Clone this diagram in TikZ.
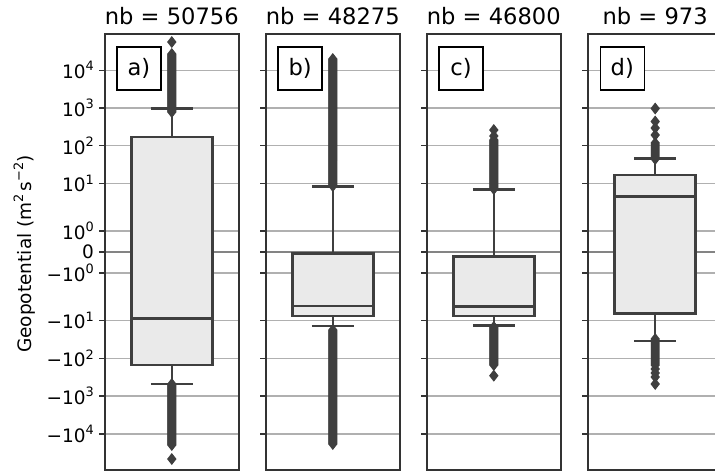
\documentclass[tikz,border=0pt]{standalone}
\usepackage{fontspec}
\setmainfont{DejaVu Sans}
\definecolor{boxgray}{HTML}{EAEAEA}
\definecolor{linegray}{HTML}{3F3F3F}
\definecolor{gridgray}{HTML}{B0B0B0}
\definecolor{spinegray}{HTML}{333333}
\newcommand{\drawflier}[2]{\fill[flier] (#1,#2-6) -- ++(4.7,6) -- ++(-4.7,6) -- ++(-4.7,-6) -- cycle;}
\newcommand{\supx}[1]{\raisebox{0.42em}{\fontsize{12.9}{14}\selectfont #1}}
\tikzset{
  spine/.style={draw=spinegray, line width=1.5pt},
  gridln/.style={gridgray, line width=1.4pt},
  boxbody/.style={draw=linegray, fill=boxgray, line width=2.6pt},
  whisk/.style={linegray, line width=2.5pt},
  flier/.style={fill=linegray},
  panellabel/.style={draw=black, fill=white, line width=1.5pt, minimum width=44pt,
    minimum height=43pt, inner sep=0pt, font=\fontsize{22.6}{26}\selectfont},
  ticklab/.style={anchor=east, inner sep=0pt, font=\fontsize{18.5}{22}\selectfont},
  titlelab/.style={anchor=base, inner sep=0pt, font=\fontsize{22.6}{26}\selectfont},
}
\begin{document}
\begin{tikzpicture}[x=1pt,y=-1pt]
  \useasboundingbox (0,0) rectangle (715,472);
  \clip (0,0) rectangle (715,472);

  % grid lines and ticks
  \foreach \px in {105,266,427,588} {
    \foreach \ty in {70.2,108,145.7,183.5,231,273,320.5,358.3,396,433.8}
      \draw[gridln] (\px,\ty) -- (\px+134,\ty);
    \draw[gridgray!75!black, line width=1.4pt] (\px,252) -- (\px+134,252);
    \foreach \ty in {70.2,108,145.7,183.5,231,252,273,320.5,358.3,396,433.8}
      \draw[spinegray, line width=1.4pt] (\px-6,\ty) -- (\px,\ty);
  }

  % boxes, whiskers, caps
  \draw[whisk] (171.8,137) -- (171.8,108.3);
  \draw[whisk] (150.8,108.3) -- (192.8,108.3);
  \draw[whisk] (171.8,365) -- (171.8,384);
  \draw[whisk] (150.8,384) -- (192.8,384);
  \draw[boxbody] (131.3,137) rectangle (212.3,365);
  \draw[linegray, line width=2.6pt] (131.3,318.7) -- (212.3,318.7);

  \draw[whisk] (332.8,253.3) -- (332.8,186.7);
  \draw[whisk] (311.8,186.7) -- (353.8,186.7);
  \draw[whisk] (332.8,316) -- (332.8,326);
  \draw[whisk] (311.8,326) -- (353.8,326);
  \draw[boxbody] (292.3,253.3) rectangle (373.3,316);
  \draw[linegray, line width=2.6pt] (292.3,306) -- (373.3,306);

  \draw[whisk] (493.8,256.7) -- (493.8,189.3);
  \draw[whisk] (472.8,189.3) -- (514.8,189.3);
  \draw[whisk] (493.8,316) -- (493.8,325.3);
  \draw[whisk] (472.8,325.3) -- (514.8,325.3);
  \draw[boxbody] (453.3,256.7) rectangle (534.3,316);
  \draw[linegray, line width=2.6pt] (453.3,306.3) -- (534.3,306.3);

  \draw[whisk] (655.2,175) -- (655.2,158.3);
  \draw[whisk] (634.2,158.3) -- (676.2,158.3);
  \draw[whisk] (655.2,313.3) -- (655.2,341);
  \draw[whisk] (634.2,341) -- (676.2,341);
  \draw[boxbody] (614.7,175) rectangle (695.7,313.3);
  \draw[linegray, line width=2.6pt] (614.7,196.7) -- (695.7,196.7);

  % outliers
  \foreach \fy in {42,54,55,...,112} {\drawflier{171.8}{\fy}}
  \foreach \fy in {384,385,...,445,459} {\drawflier{171.8}{\fy}}
  \foreach \fy in {59,60,...,186} {\drawflier{332.8}{\fy}}
  \foreach \fy in {330,331,...,444} {\drawflier{332.8}{\fy}}
  \foreach \fy in {130,136,140,141,...,189} {\drawflier{493.8}{\fy}}
  \foreach \fy in {327,328,...,365,375.7} {\drawflier{493.8}{\fy}}
  \foreach \fy in {108.5,121.5,128,135,143,145,...,159} {\drawflier{655.2}{\fy}}
  \foreach \fy in {339,341,...,365,369,373,377,384} {\drawflier{655.2}{\fy}}

  % frames
  \foreach \px in {105,266,427,588}
    \draw[spine] (\px,34) rectangle (\px+134,470);

  % labels
  \node[panellabel] (labA) at (138.9,68.3) {a)};
  \node[panellabel] (labB) at (300.1,68.3) {b)};
  \node[panellabel] (labC) at (461.1,68.3) {c)};
  \node[panellabel] (labD) at (622.3,68.3) {d)};

  \node[titlelab] (nbA) at (171.8,24) {nb = 50756};
  \node[titlelab] (nbB) at (332.8,24) {nb = 48275};
  \node[titlelab] (nbC) at (493.8,24) {nb = 46800};
  \node[titlelab] (nbD) at (655.2,24) {nb = 973};

  \node[ticklab] (t4) at (94,70.2) {10\supx{4}};
  \node[ticklab] (t3) at (94,108) {10\supx{3}};
  \node[ticklab] (t2) at (94,145.7) {10\supx{2}};
  \node[ticklab] (t1) at (94,183.5) {10\supx{1}};
  \node[ticklab] (t0) at (94,231) {10\supx{0}};
  \node[ticklab] (tz) at (94,252) {0};
  \node[ticklab] (m0) at (94,273) {−10\supx{0}};
  \node[ticklab] (m1) at (94,320.5) {−10\supx{1}};
  \node[ticklab] (m2) at (94,358.3) {−10\supx{2}};
  \node[ticklab] (m3) at (94,396) {−10\supx{3}};
  \node[ticklab] (m4) at (94,433.8) {−10\supx{4}};

  \node[anchor=base, rotate=90, inner sep=0pt, font=\fontsize{18.5}{22}\selectfont]
    (ylab) at (31,254) {Geopotential (m\supx{2}\,s\supx{−2})};
\end{tikzpicture}
\end{document}
